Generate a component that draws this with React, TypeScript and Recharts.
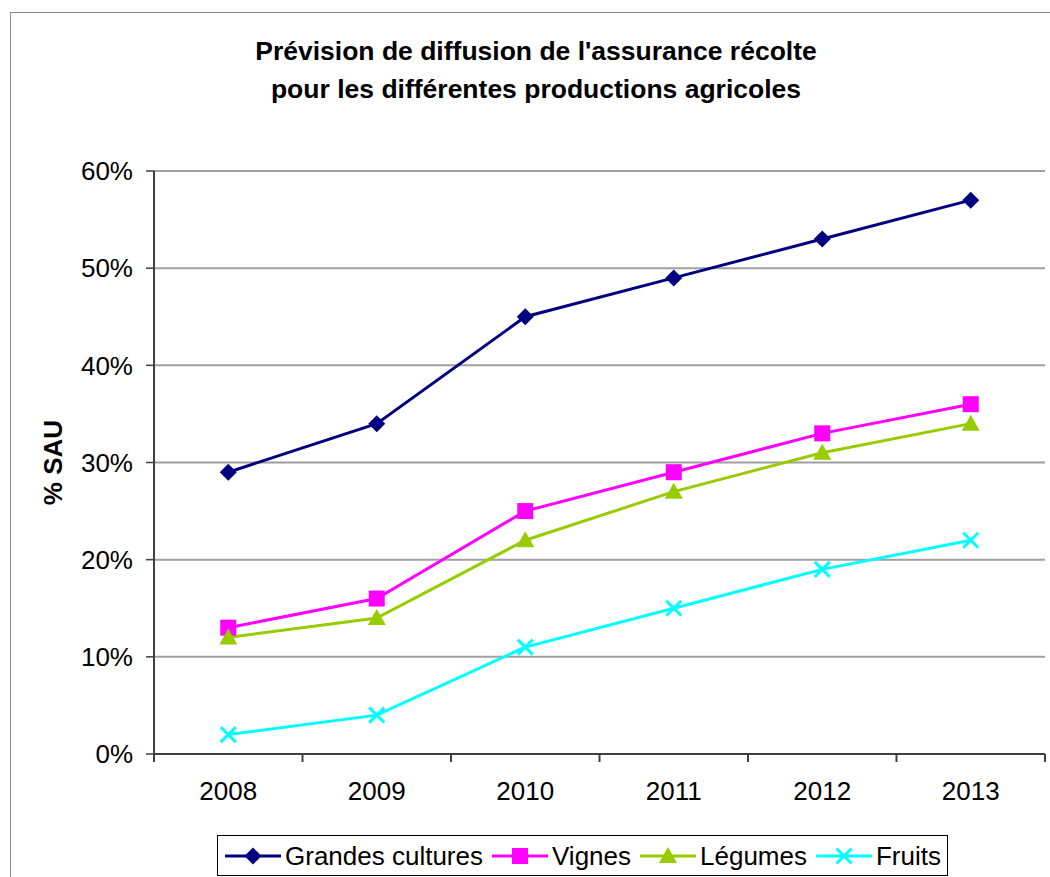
import React from 'react';
import { LineChart, Line, XAxis, YAxis, CartesianGrid } from 'recharts';

const years = ['2008', '2009', '2010', '2011', '2012', '2013'];
const grandesCultures = [29, 34, 45, 49, 53, 57];
const vignes = [13, 16, 25, 29, 33, 36];
const legumes = [12, 14, 22, 27, 31, 34];
const fruits = [2, 4, 11, 15, 19, 22];
const yTicks = [0, 10, 20, 30, 40, 50, 60];

const titleLines = ["Prévision de diffusion de l'assurance récolte", 'pour les différentes productions agricoles'];
const yLabel = '% SAU';

type SeriesDef = { key: string; name: string; color: string; shape: 'diamond' | 'square' | 'triangle' | 'x' };
const series: SeriesDef[] = [
  { key: 'gc', name: 'Grandes cultures', color: '#000080', shape: 'diamond' },
  { key: 'vi', name: 'Vignes', color: '#FF00FF', shape: 'square' },
  { key: 'le', name: 'Légumes', color: '#99CC00', shape: 'triangle' },
  { key: 'fr', name: 'Fruits', color: '#00FFFF', shape: 'x' },
];

const data = years.map((y, i) => ({
  year: y,
  gc: grandesCultures[i],
  vi: vignes[i],
  le: legumes[i],
  fr: fruits[i],
}));

const FONT = '"Liberation Sans", Arial, Helvetica, sans-serif';

function Marker({ cx, cy, shape, color }: { cx: number; cy: number; shape: string; color: string }) {
  if (cx == null || cy == null) return null;
  if (shape === 'diamond') {
    const s = 8.5;
    return <polygon points={`${cx},${cy - s} ${cx + s},${cy} ${cx},${cy + s} ${cx - s},${cy}`} fill={color} />;
  }
  if (shape === 'square') {
    const s = 8;
    return <rect x={cx - s} y={cy - s} width={2 * s} height={2 * s} fill={color} />;
  }
  if (shape === 'triangle') {
    return <polygon points={`${cx},${cy - 9} ${cx + 9},${cy + 7} ${cx - 9},${cy + 7}`} fill={color} />;
  }
  const s = 7.5;
  return (
    <g stroke={color} strokeWidth={3}>
      <line x1={cx - s} y1={cy - s} x2={cx + s} y2={cy + s} />
      <line x1={cx - s} y1={cy + s} x2={cx + s} y2={cy - s} />
    </g>
  );
}

const HALF_BAND = 74.25;

function XTick(props: any) {
  const { x, y, payload, index } = props;
  const axisY = y - 28;
  return (
    <g>
      <line x1={x - HALF_BAND} y1={axisY} x2={x - HALF_BAND} y2={axisY + 8} stroke="#404040" strokeWidth={2} />
      {index === years.length - 1 && (
        <line x1={x + HALF_BAND} y1={axisY} x2={x + HALF_BAND} y2={axisY + 8} stroke="#404040" strokeWidth={2} />
      )}
      <text x={x} y={y} dy="0.71em" textAnchor="middle" fontSize={26} fontFamily={FONT} fill="#000">
        {payload.value}
      </text>
    </g>
  );
}

function YLabel(props: any) {
  const vb = props.viewBox || { x: 0, y: 0, width: 0, height: 0 };
  const x = 62;
  const y = vb.y + vb.height / 2;
  return (
    <text
      x={x}
      y={y}
      transform={`rotate(-90 ${x} ${y})`}
      textAnchor="middle"
      fontSize={26}
      fontWeight="bold"
      fontFamily={FONT}
      fill="#000"
    >
      {yLabel}
    </text>
  );
}

function LegendBox() {
  return (
    <div
      style={{
        position: 'absolute',
        left: 217,
        top: 835,
        height: 41,
        boxSizing: 'border-box',
        border: '1.5px solid #000',
        background: '#fff',
        display: 'flex',
        alignItems: 'center',
        padding: '0 6px 0 7px',
        fontFamily: FONT,
        fontSize: 26,
        color: '#000',
        whiteSpace: 'nowrap',
      }}
    >
      {series.map((s, i) => (
        <div key={s.key} style={{ display: 'flex', alignItems: 'center', marginLeft: i === 0 ? 0 : 9 }}>
          <svg width={56} height={24} style={{ display: 'block' }}>
            <line x1={0} y1={12} x2={56} y2={12} stroke={s.color} strokeWidth={3} />
            <Marker cx={28} cy={12} shape={s.shape} color={s.color} />
          </svg>
          <span style={{ marginLeft: 4, lineHeight: '30px' }}>{s.name}</span>
        </div>
      ))}
    </div>
  );
}

export default function App() {
  return (
    <div
      style={{
        position: 'absolute',
        left: 0,
        top: 0,
        width: 1050,
        height: 877,
        overflow: 'hidden',
        background: '#fff',
      }}
    >
      <div
        style={{
          position: 'absolute',
          left: 10,
          top: 12,
          width: 1200,
          height: 1000,
          border: '1.5px solid #8a8a8a',
        }}
      />
      <div
        style={{
          position: 'absolute',
          left: 0,
          top: 32,
          width: 1072,
          textAlign: 'center',
          fontFamily: FONT,
          fontWeight: 'bold',
          fontSize: 26.5,
          lineHeight: '38px',
          color: '#000',
        }}
      >
        {titleLines.map((t) => (
          <div key={t}>{t}</div>
        ))}
      </div>
      <div style={{ position: 'absolute', left: 0, top: 0 }}>
        <LineChart width={1050} height={877} data={data} margin={{ top: 171, right: 5, left: 0, bottom: 63 }}>
          <CartesianGrid vertical={false} stroke="#a0a0a0" strokeWidth={2} />
          <XAxis
            dataKey="year"
            padding={{ left: HALF_BAND, right: HALF_BAND }}
            height={60}
            axisLine={{ stroke: '#404040', strokeWidth: 2 }}
            tickLine={false}
            tickSize={8}
            tickMargin={20}
            tick={<XTick />}
            interval={0}
          />
          <YAxis
            width={154}
            domain={[0, 60]}
            ticks={yTicks}
            interval={0}
            tickFormatter={(v: number) => `${v}%`}
            axisLine={{ stroke: '#404040', strokeWidth: 2 }}
            tickLine={{ stroke: '#404040', strokeWidth: 1.5 }}
            tickSize={8}
            tickMargin={13}
            tick={{ fontSize: 26, fontFamily: FONT, fill: '#000' }}
            label={{ value: yLabel, content: <YLabel /> }}
          />
          <YAxis
            yAxisId="right"
            orientation="right"
            width={0}
            domain={[0, 60]}
            ticks={yTicks}
            tick={false}
            tickLine={false}
            axisLine={{ stroke: '#909090', strokeWidth: 3 }}
          />
          {series.map((s) => (
            <Line
              key={s.key}
              type="linear"
              dataKey={s.key}
              name={s.name}
              stroke={s.color}
              strokeWidth={3}
              isAnimationActive={false}
              dot={(p: any) => <Marker key={`${s.key}-${p.index}`} cx={p.cx} cy={p.cy} shape={s.shape} color={s.color} />}
              activeDot={false}
            />
          ))}
        </LineChart>
      </div>
      <LegendBox />
    </div>
  );
}
